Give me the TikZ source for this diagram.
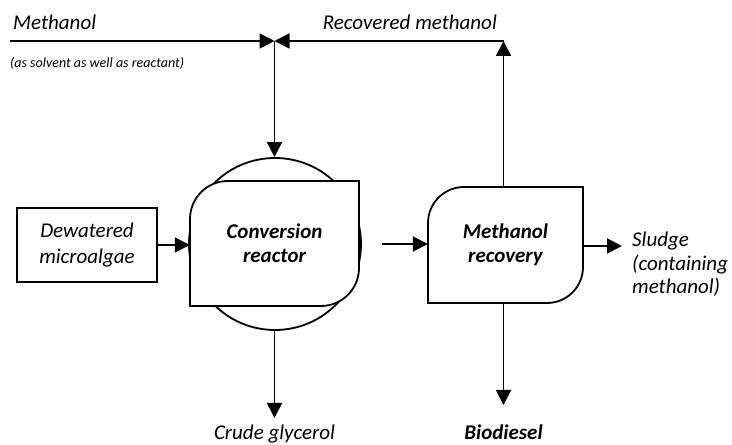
\documentclass[tikz,border=0pt]{standalone}
\usepackage{fontspec}
\setmainfont{Carlito}
\usetikzlibrary{arrows.meta}
\begin{document}
\begin{tikzpicture}[x=1pt,y=1pt,
  line/.style={line width=1.8pt},
  arr/.style={line width=1.8pt,-{Triangle[length=15pt,width=15pt]}},
  lbl/.style={font=\fontsize{21}{24}\selectfont\itshape,inner sep=0pt},
  blbl/.style={font=\fontsize{21}{24}\selectfont\bfseries\itshape,inner sep=0pt},
  slbl/.style={font=\fontsize{14}{16}\selectfont\itshape,inner sep=0pt,anchor=west}
]
\useasboundingbox (0,0) rectangle (732,445);
% reactor circle and box
\node[line,draw,circle,minimum size=172pt,inner sep=0pt] (circ) at (275,201) {};
\draw[line,fill=white] (190,139) -- (190,226) arc[start angle=180,end angle=90,radius=38] -- (359,264) -- (359,177) arc[start angle=0,end angle=-90,radius=38] -- cycle;
\node[draw=none,minimum width=169pt,minimum height=125pt,inner sep=0pt] (reactor) at (274.5,201.5) {};
\node[blbl,align=center] at (reactor.center) {Conversion\\reactor};
% methanol recovery box
\draw[line,fill=white] (428,142) -- (428,222) arc[start angle=180,end angle=90,radius=36] -- (583,258) -- (583,178) arc[start angle=0,end angle=-90,radius=36] -- cycle;
\node[draw=none,minimum width=155pt,minimum height=116pt,inner sep=0pt] (rec) at (505.5,200) {};
\node[blbl,align=center] at (rec.center) {Methanol\\recovery};
% dewatered microalgae
\node[line,draw,minimum width=140pt,minimum height=74pt,inner sep=0pt,align=center,font=\fontsize{21}{26}\selectfont\itshape] (dew) at (87,200) {Dewatered\\microalgae};
% top lines
\coordinate (mstart) at (10,404);
\coordinate (junc) at (274.5,404);
\coordinate (corner) at (503.5,404);
\draw[arr] (mstart) -- (junc);
\draw[arr] (rec.north -| corner) -- (corner);
\draw[arr] (corner) -- (junc);
\draw[arr] (junc) -- (circ.north -| junc);
\node[lbl,anchor=west] (meth) at (13,423) {Methanol};
\node[slbl] (solv) at (10,382) {(as solvent as well as reactant)};
\node[lbl,anchor=east] (recm) at (497,423) {Recovered methanol};
% flows
\draw[arr] (dew.east) -- (reactor.west |- dew.east);
\coordinate (rstart) at (382,201);
\draw[arr] (rstart) -- (rec.west |- rstart);
\coordinate (sludgeend) at (622,199);
\draw[arr] (rec.east |- sludgeend) -- (sludgeend);
\node[lbl,anchor=north west,align=left,font=\fontsize{21}{23.5}\selectfont\itshape] (sludge) at (632,213) {Sludge\\(containing\\methanol)};
\coordinate (glyend) at (274.5,27);
\draw[arr] (circ.south -| glyend) -- (glyend);
\node[lbl,anchor=base] (gly) at (274.5,5) {Crude glycerol};
\coordinate (bioend) at (503.5,40);
\draw[arr] (rec.south -| bioend) -- (bioend);
\node[blbl,anchor=base] (bio) at (503.5,5) {Biodiesel};
\end{tikzpicture}
\end{document}
